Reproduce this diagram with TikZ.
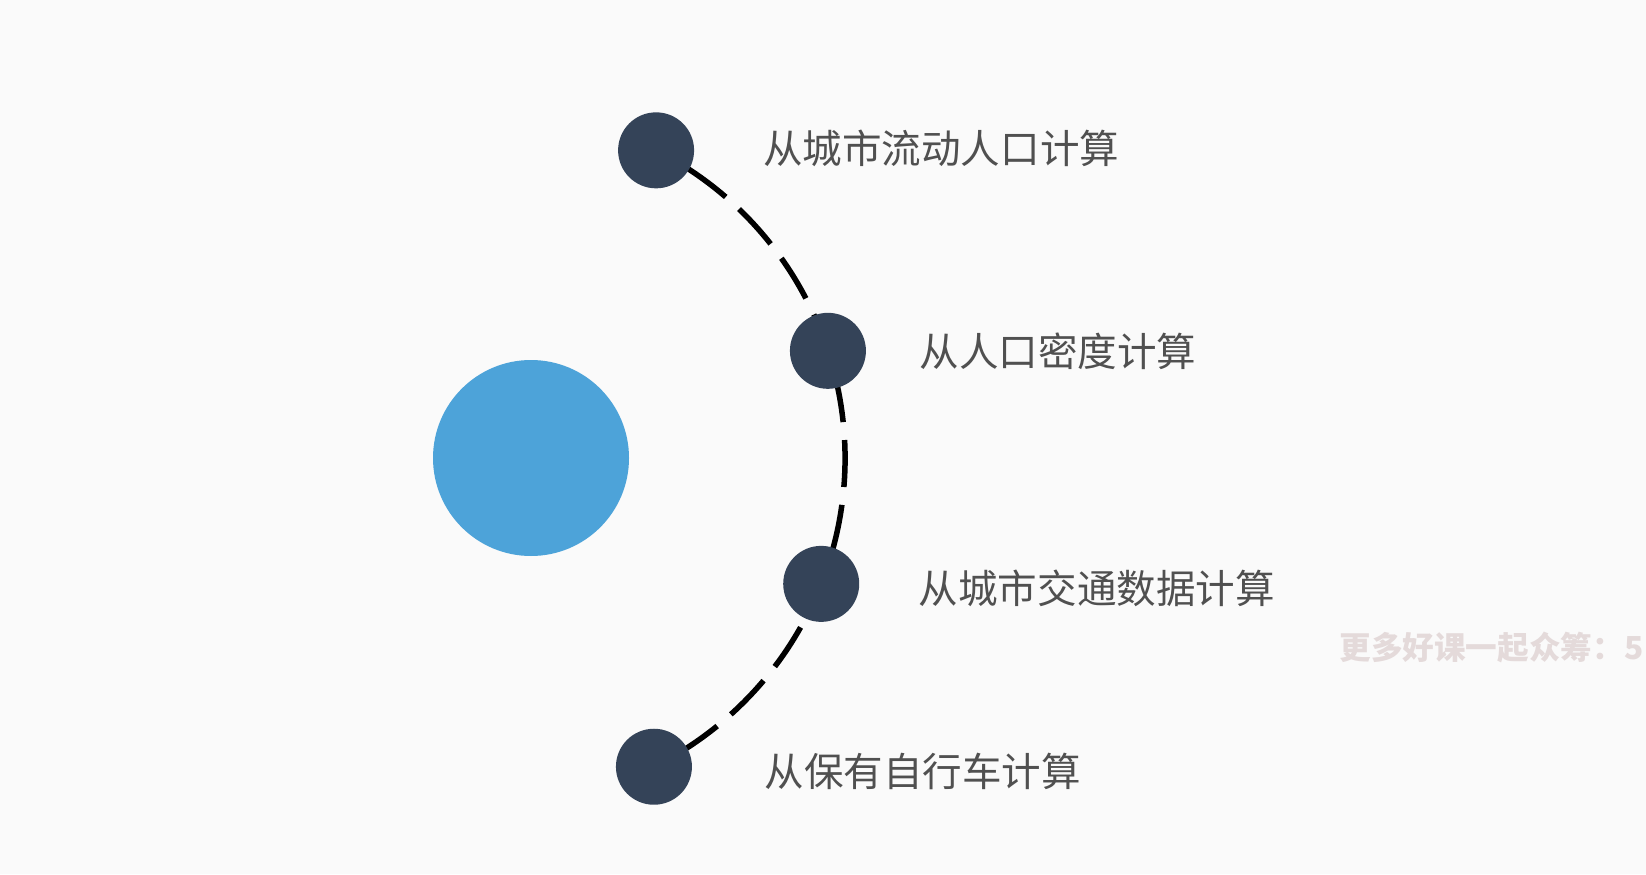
\documentclass[tikz,border=0pt]{standalone}
\usepackage{fontspec}
\newfontfamily\cjk{Noto Sans CJK SC}
\usetikzlibrary{positioning}

\definecolor{punktblau}{RGB}{77,163,217}
\definecolor{punktdunkel}{RGB}{52,67,88}
\definecolor{textgrau}{RGB}{80,80,80}
\definecolor{hintergrund}{RGB}{250,250,250}
\definecolor{wasserzeichen}{RGB}{228,218,218}

\pgfdeclarelayer{hinten}
\pgfsetlayers{hinten,main}

\tikzset{
  punkt/.style={circle, fill=punktdunkel, minimum size=1.52cm, inner sep=0pt},
  beschriftung/.style={inner sep=0pt, text=textgrau, font=\cjk\fontsize{22.5}{27}\selectfont},
  bogen/.style={line width=0.11cm, dash pattern=on 0.94cm off 0.36cm, dash phase=0.56cm},
}

\begin{document}
\begin{tikzpicture}
    \useasboundingbox (0,0) rectangle (32.92,17.48);
    \clip (0,0) rectangle (32.92,17.48);
    \begin{pgfonlayer}{hinten}
        \fill[hintergrund] (0,0) rectangle (32.92,17.48);
    \end{pgfonlayer}

    % Mittelpunkt und grosser Kreis
    \coordinate (mitte) at (10,8.32);
    \node[circle, fill=punktblau, minimum size=3.92cm, inner sep=0pt] (kern) at (10.62,8.32) {};

    % Punkte auf dem Bogen
    \node[punkt] (p1) at ([shift={(63.1:6.9)}]mitte) {};
    \node[punkt] (p2) at ([shift={(18.1:6.9)}]mitte) {};
    \node[punkt] (p3) at ([shift={(-21.4:6.9)}]mitte) {};
    \node[punkt] (p4) at ([shift={(-63.5:6.9)}]mitte) {};

    % Gestrichelter Bogen
    \begin{pgfonlayer}{hinten}
        \draw[bogen] (p1.center) arc[start angle=63.1, end angle=-63.5, radius=6.9cm];
    \end{pgfonlayer}

    % Beschriftungen
    \node[beschriftung, right=1.37cm of p1, yshift=0.04cm] (t1) {从城市流动人口计算};
    \node[beschriftung, right=1.06cm of p2] (t2) {从人口密度计算};
    \node[beschriftung, right=1.18cm of p3, yshift=-0.08cm] (t3) {从城市交通数据计算};
    \node[beschriftung, right=1.44cm of p4, yshift=-0.1cm] (t4) {从保有自行车计算};

    % Wasserzeichen
    \node[anchor=west, inner sep=0pt, text=wasserzeichen, font=\cjk\bfseries\fontsize{18}{20}\selectfont] (wz) at (26.78,4.52) {更多好课一起众筹：5};
\end{tikzpicture}
\end{document}
